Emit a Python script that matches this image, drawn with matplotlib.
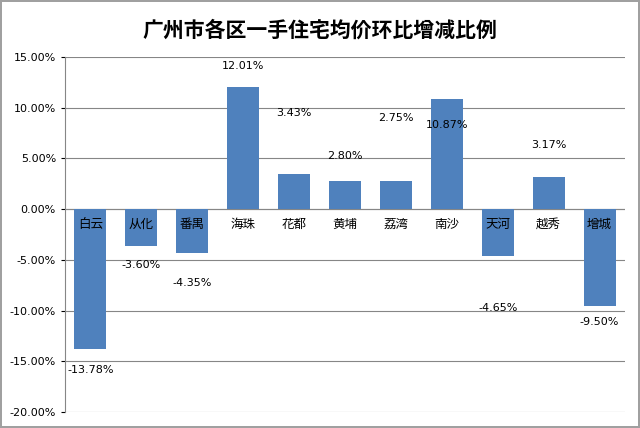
import matplotlib.pyplot as plt
from matplotlib import font_manager
from matplotlib.ticker import FuncFormatter

cjk = [f.name for f in font_manager.fontManager.ttflist if "CJK" in f.name]
plt.rcParams["font.family"] = (cjk[:1] if cjk else []) + ["DejaVu Sans"]

districts = ["白云", "从化", "番禺", "海珠", "花都", "黄埔", "荔湾", "南沙", "天河", "越秀", "增城"]
changes = [-13.78, -3.60, -4.35, 12.01, 3.43, 2.80, 2.75, 10.87, -4.65, 3.17, -9.50]
# where Excel put each value label (in % units)
label_y = [-15.9, -5.5, -7.3, 14.1, 9.5, 5.2, 9.0, 8.3, -9.7, 6.3, -11.1]

fig = plt.figure(figsize=(6.4, 4.28), dpi=100)
fig.patch.set_edgecolor("#a0a0a0")
fig.patch.set_linewidth(1.5)
ax = fig.add_axes([65 / 640, 1 - 412 / 428, 560 / 640, 355 / 428])

x = list(range(len(districts)))
ax.bar(x, changes, width=0.63, color="#4f81bd", zorder=2)

for xi, name, v, ly in zip(x, districts, changes, label_y):
    ax.text(xi, -1.5, name, ha="center", va="center", fontsize=9, zorder=3)
    ax.text(xi, ly, f"{v:.2f}%", ha="center", va="center", fontsize=8,
            family="DejaVu Sans", zorder=3)

ax.set_xlim(-0.5, len(districts) - 0.5)
ax.set_ylim(-20, 15)
ax.set_yticks(range(-20, 16, 5))
ax.yaxis.set_major_formatter(FuncFormatter(lambda v, p: f"{v:.2f}%"))
ax.tick_params(axis="y", labelsize=8, length=3)
for t in ax.get_yticklabels():
    t.set_family("DejaVu Sans")
ax.set_xticks([])
ax.grid(axis="y", color="#868686", linewidth=0.8, zorder=0)
ax.axhline(0, color="#868686", linewidth=0.8, zorder=1)
for s in ["top", "right", "bottom"]:
    ax.spines[s].set_visible(False)
ax.spines["left"].set_color("#868686")

fig.text(0.5, 1 - 30 / 428, "广州市各区一手住宅均价环比增减比例", ha="center", va="center",
         fontsize=15, fontweight="bold")

fig.savefig("out.png", dpi=100)
